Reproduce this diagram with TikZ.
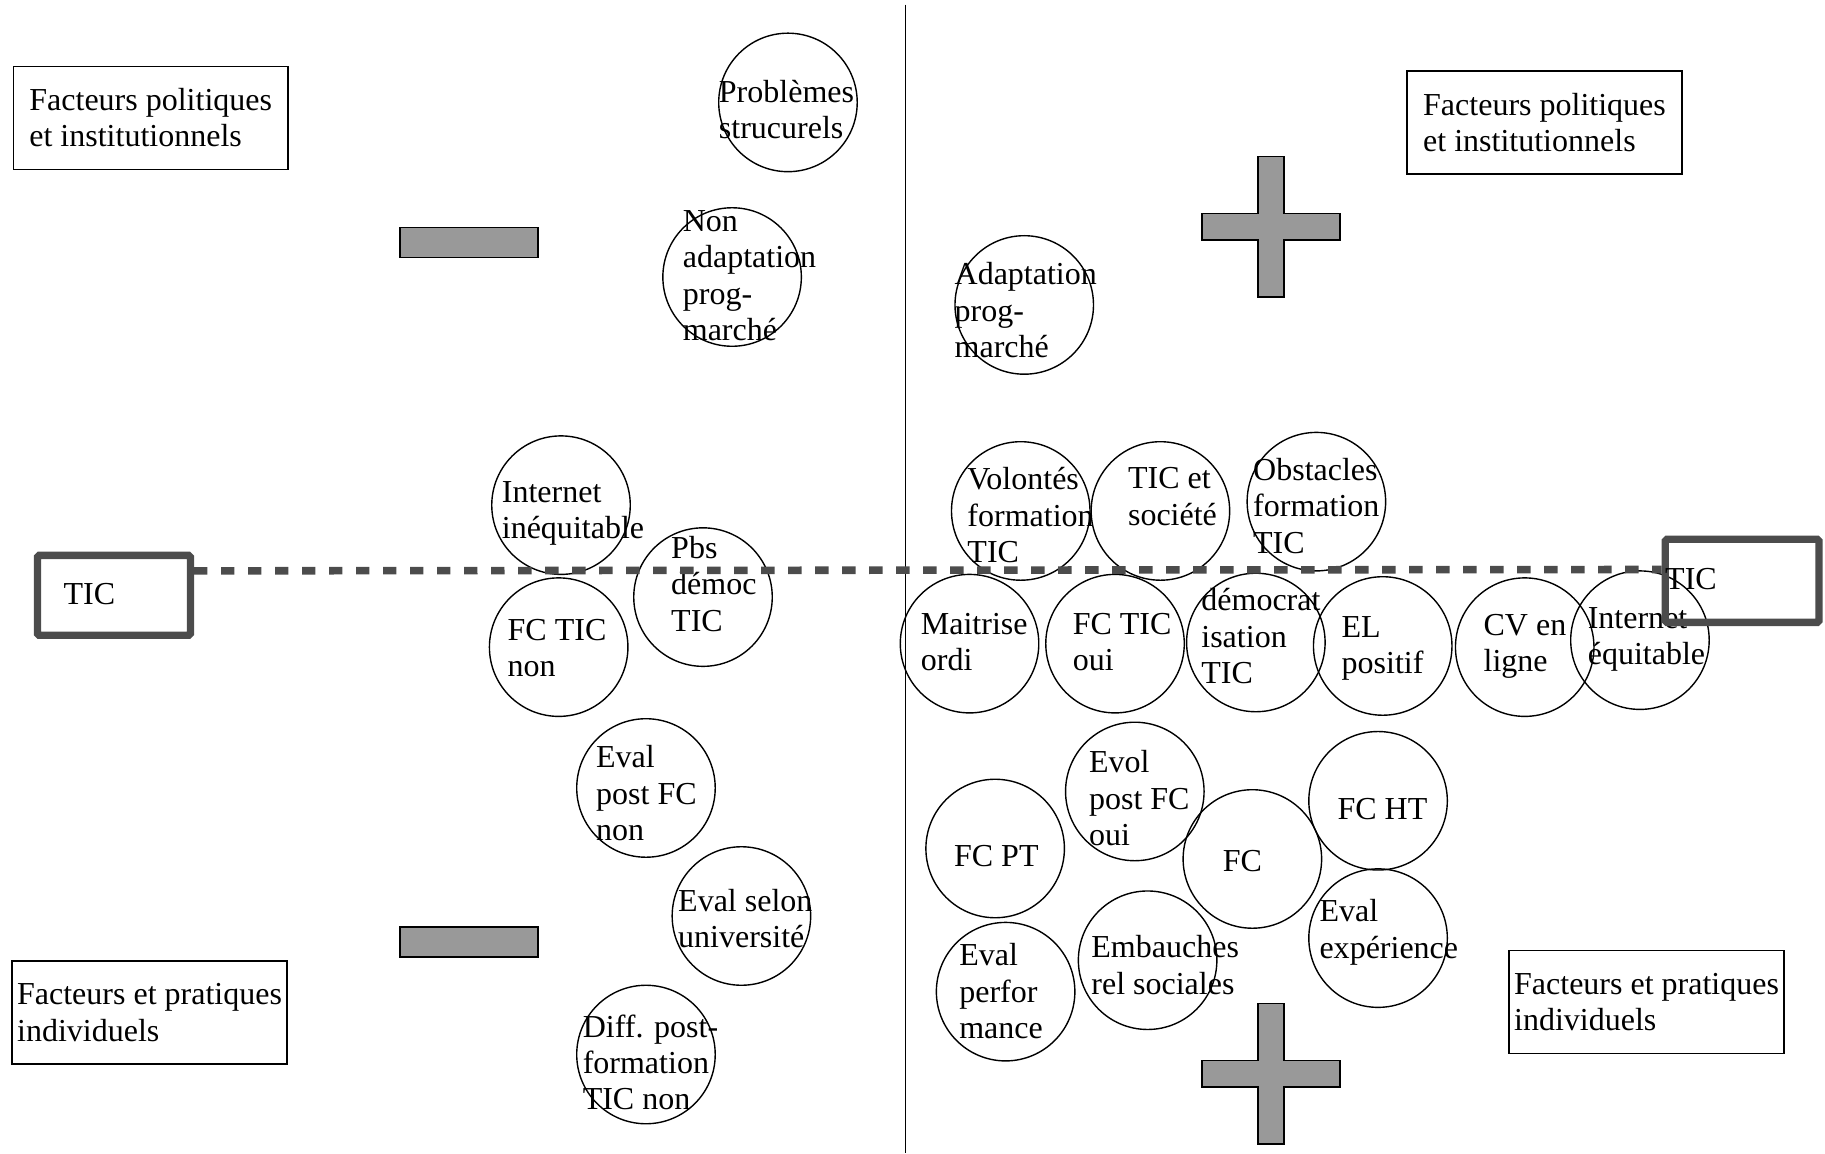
\documentclass[tikz,border=0pt]{standalone}
\usepackage{fontspec}
\setmainfont{Liberation Serif}
\begin{document}
\begin{tikzpicture}[x=1pt,y=-1pt,
  every node/.style={font=\fontsize{27.5}{31.3}\selectfont},
  bulle/.style={circle,draw,line width=1.2pt,minimum size=119pt,inner sep=0pt},
  txt/.style={anchor=north west,align=left,inner sep=0pt,execute at begin node=\strut},
  cadre/.style={draw,line width=1.3pt,minimum width=236pt,minimum height=88.5pt,align=left,inner sep=0pt},
  ticbox/.style={draw=black!70,line width=6.3pt,rounded corners=1.5pt,inner sep=0pt},
  signe/.style={draw,fill=black!40,line width=1.4pt},
  tirets/.style={draw=black!70,line width=6.5pt,dash pattern=on 11.5pt off 11.7pt}]

\useasboundingbox (0,0) rectangle (1568,991);

% axe vertical
\draw[line width=1.3pt] (778,4) -- (778,991);

% cadres
\node[cadre] (polg) at (129.5,101.2) {Facteurs politiques\\et institutionnels};
\node[cadre] (pold) at (1327,105.3) {Facteurs politiques\\et institutionnels};
\node[cadre] (indg) at (128.5,870) {Facteurs et pratiques\\individuels};
\node[cadre] (indd) at (1414.7,860.9) {Facteurs et pratiques\\individuels};

% signes - et +
\draw[signe] (343.7,195.5) rectangle (462.3,221.3);
\draw[signe] (343.7,796.7) rectangle (462.3,822.3);

\draw[signe] (1092,194.8) +(-11.3,-60.4) -- +(11.3,-60.4) -- +(11.3,-11.4) -- +(59.3,-11.4) -- +(59.3,11.4) -- +(11.3,11.4) -- +(11.3,60.4) -- +(-11.3,60.4) -- +(-11.3,11.4) -- +(-59.3,11.4) -- +(-59.3,-11.4) -- +(-11.3,-11.4) -- cycle;
\draw[signe] (1092,922.7) +(-11.3,-60.4) -- +(11.3,-60.4) -- +(11.3,-11.4) -- +(59.3,-11.4) -- +(59.3,11.4) -- +(11.3,11.4) -- +(11.3,60.4) -- +(-11.3,60.4) -- +(-11.3,11.4) -- +(-59.3,11.4) -- +(-59.3,-11.4) -- +(-11.3,-11.4) -- cycle;

% bulles, cote gauche
\node[bulle] (prob) at (677,88) {};
\node[bulle] (nonadapt) at (629,238) {};
\node[bulle] (inetneg) at (482,434) {};
\node[bulle] (pbsdem) at (604,513) {};
\node[bulle] (fcnon) at (480,556) {};
\node[bulle] (evalnon) at (555,677) {};
\node[bulle] (evaluniv) at (637,787) {};
\node[bulle] (diffnon) at (555,906) {};

\node[txt] (prob-t) at (617.5,68.5) {Problèmes\\strucurels};
\node[txt] (nonadapt-t) at (586.5,180.5) {Non\\adaptation\\prog-\\marché};
\node[txt] (inetneg-t) at (431,413.5) {Internet\\inéquitable};
\node[txt] (pbsdem-t) at (576.5,460.5) {Pbs\\démoc\\TIC};
\node[txt] (fcnon-t) at (436,531.5) {FC TIC\\non};
\node[txt] (evalnon-t) at (512,640.5) {Eval\\post FC\\non};
\node[txt] (evaluniv-t) at (582.5,763.5) {Eval selon\\université};
\node[txt] (diffnon-t) at (500.5,871.5) {Diff. post-\\formation\\TIC non};

% bulles, cote droit
\node[bulle] (adapt) at (880,262) {};
\node[bulle] (volont) at (877,439) {};
\node[bulle] (ticsoc) at (997,439) {};
\node[bulle] (obst) at (1131,431) {};
\node[bulle] (maitr) at (833,553) {};
\node[bulle] (fcoui) at (958,553) {};
\node[bulle] (democ) at (1079,552) {};
\node[bulle] (elpos) at (1188,555) {};
\node[bulle] (cv) at (1310,556) {};
\node[bulle] (inetpos) at (1409,550) {};
\node[bulle] (fcpt) at (855,729) {};
\node[bulle] (evol) at (975,680) {};
\node[bulle] (fc) at (1076,738) {};
\node[bulle] (fcht) at (1184,688) {};
\node[bulle] (evalexp) at (1184,806) {};
\node[bulle] (embau) at (986,825) {};
\node[bulle] (evalperf) at (864,852) {};

\node[txt] (adapt-t) at (820,225.5) {Adaptation\\prog-\\marché};
\node[txt] (volont-t) at (831,401.5) {Volontés\\formation\\TIC};
\node[txt] (ticsoc-t) at (969,401.5) {TIC et\\société};
\node[txt] (obst-t) at (1076.5,393.5) {Obstacles\\formation\\TIC};
\node[txt] (maitr-t) at (791,526.5) {Maitrise\\ordi};
\node[txt] (fcoui-t) at (921.5,526.5) {FC TIC\\oui};
\node[txt] (democ-t) at (1032,505.5) {démocrat\\isation\\TIC};
\node[txt] (elpos-t) at (1152.5,529.5) {EL\\positif};
\node[txt] (cv-t) at (1274.5,527.5) {CV en\\ligne};
\node[txt] (inetpos-t) at (1364,521.5) {Internet\\équitable};
\node[txt] (fcpt-t) at (819.5,722) {FC PT};
\node[txt] (evol-t) at (935.5,644.5) {Evol\\post FC\\oui};
\node[txt] (fc-t) at (1050.5,727) {FC};
\node[txt] (fcht-t) at (1149,682) {FC HT};
\node[txt] (evalexp-t) at (1133.5,772.5) {Eval\\expérience};
\node[txt] (embau-t) at (937.5,803.5) {Embauches\\rel sociales};
\node[txt] (evalperf-t) at (824,810.5) {Eval\\perfor\\mance};

% TIC
\node[ticbox,minimum width=131.4pt,minimum height=68.7pt] (ticg) at (97.9,511.5) {};
\node[ticbox,minimum width=132.1pt,minimum height=71.4pt] (ticd) at (1496.8,499) {};
\node[txt] (ticg-t) at (54.5,497) {TIC};
\node[txt] (ticd-t) at (1430.5,484.5) {TIC};

\draw[tirets] (ticg.17) -- (ticd.172);

\end{tikzpicture}
\end{document}
